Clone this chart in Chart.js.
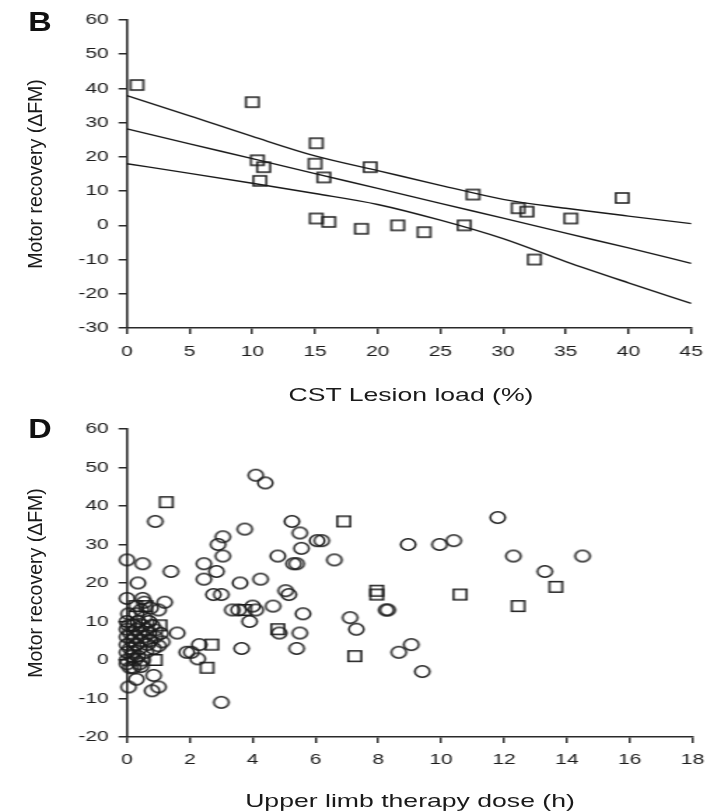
<!DOCTYPE html>
<html>
<head>
<meta charset="utf-8">
<script src="https://cdn.jsdelivr.net/npm/chart.js@4.4.1/dist/chart.umd.min.js"></script>
<style>
  html, body { margin: 0; padding: 0; background: #fff; }
  body {
    width: 715px; height: 812px; position: relative; overflow: hidden;
    font-family: "Liberation Sans", Arial, sans-serif; color: #1a1a1a;
  }
  /* the source figure is stretched sideways, so the charts are drawn narrow and widened */
  #stretch { position: absolute; left: 0; top: 0; width: 511px; height: 812px;
    transform: scaleX(1.4); transform-origin: 0 0; }
  #stretch canvas { position: absolute; left: 0; }
  #chart-b { top: 0; }
  #chart-d { top: 410px; }
  .txt { position: absolute; white-space: nowrap; line-height: 1; }
  .wide { transform: translate(-50%, -50%) scaleX(1.4); font-size: 19px; }
  .panel { transform: translate(-50%, -50%) scaleX(1.2); font-size: 27px; font-weight: bold; color: #111; }
  .ytitle { transform: translate(-50%, -50%) rotate(-90deg); font-size: 19.5px; }
</style>
</head>
<body>
<div id="stretch">
  <canvas id="chart-b" width="511" height="410"></canvas>
  <canvas id="chart-d" width="511" height="402"></canvas>
</div>
<div class="txt panel" style="left:40px; top:22px;">B</div>
<div class="txt panel" style="left:40px; top:429px;">D</div>
<div class="txt ytitle" style="left:36px; top:174px;">Motor recovery (ΔFM)</div>
<div class="txt ytitle" style="left:36px; top:583px;">Motor recovery (ΔFM)</div>
<div class="txt wide" style="left:411px; top:394px;">CST Lesion load (%)</div>
<div class="txt wide" style="left:410px; top:800px;">Upper limb therapy dose (h)</div>

<script>
// panel B: CST lesion load vs motor recovery
const lesionLoad = [0.8, 10.0, 10.4, 10.9, 10.6, 15.1, 15.0, 15.7, 15.1, 16.1, 18.7,
  19.4, 21.6, 23.7, 26.9, 27.6, 31.2, 31.9, 32.5, 35.4, 39.5];
const recoveryB = [41, 36, 19, 17, 13, 24, 18, 14, 2, 1, -1,
  17, 0, -2, 0, 9, 5, 4, -10, 2, 8];

// regression line and its confidence band
const fitX = [0, 5, 10, 15, 20, 25, 30, 35, 40, 45];
const fitUpper = [37.9, 32.0, 26.0, 20.3, 16.0, 11.7, 7.6, 5.0, 2.7, 0.5];
const fitMid = [28.2, 23.8, 19.5, 15.1, 10.8, 6.4, 2.1, -2.3, -6.6, -11.1];
const fitLower = [18.0, 15.2, 12.3, 9.3, 6.1, 1.5, -3.9, -10.6, -16.8, -22.8];

// panel D: therapy dose vs motor recovery (circles and squares)
const doseCircle = [4.1, 4.4, 0.9, 3.75, 5.25, 5.5, 5.55, 6.05, 6.2, 6.6,
  4.8, 3.05, 2.9, 3.05, 2.45, 2.85, 2.45, 3.6, 4.25, 5.3,
  5.4, 2.75, 3.0, 5.05, 5.15, 4.65, 5.6, 3.35, 3.55, 4.0,
  4.1, 3.9, 5.5, 4.85, 3.65, 5.4, 7.1, 7.3, 2.3, 1.9,
  2.05, 2.25, 8.65, 9.05, 9.4, 3.0, 8.25, 8.3, 11.8, 8.95,
  9.95, 10.4, 12.3, 14.5, 13.3, 1.4, 1.2, 1.0, 1.6, 1.07,
  1.12, 0.0, 0.5, 0.35, 0.0, 0.5, 0.55, 0.75, 0.9, 0.05,
  0.3, 0.8, 1.0, 0.85, 0.45, 1.0,
  0.0, 0.0, 0.0, 0.0, 0.0, 0.0, 0.0, 0.05, 0.1, 0.1,
  0.15, 0.15, 0.2, 0.2, 0.25, 0.25, 0.3, 0.3, 0.35, 0.35,
  0.4, 0.4, 0.45, 0.5, 0.5, 0.55, 0.6, 0.6, 0.65, 0.7,
  0.75, 0.8, 0.85, 0.9, 0.2, 0.4, 0.1, 0.3, 0.55, 0.7,
  0.05, 0.45];
const recoveryCircle = [48, 46, 36, 34, 36, 33, 29, 31, 31, 26,
  27, 32, 30, 27, 25, 23, 21, 20, 21, 25,
  25, 17, 17, 18, 17, 14, 12, 13, 13, 14,
  13, 10, 7, 7, 3, 3, 11, 8, 4, 2,
  2, 0.3, 2, 4, -3, -11, 13, 13, 37, 30,
  30, 31, 27, 27, 23, 23, 15, 13, 7, 6.9,
  4.7, 26, 25, 20, 16, 16, 15, 13.5, 7.8, -7,
  -5, -8, -7, -4, -1.7, 3.7,
  10, 8, 6, 4, 2, 0, -1, 9, 7, 3,
  5, 1, 9, 2, 6, 0, 8, 4, 10, 1,
  7, 3, 5, 9, 0, 6, 8, 2, 4, 7,
  5, 9, 3, 6, -2, -1, -2, 12, 11, 10,
  12, 13];
const doseSquare = [1.25, 6.9, 7.95, 7.95, 10.6, 13.65, 12.45, 4.8, 7.25, 2.7,
  2.55, 0.9, 1.05, 3.75, 0.28, 0.6];
const recoverySquare = [41, 36, 18, 17, 17, 19, 14, 8, 1, 4,
  -2, 0, 9, 13, 14, 14];

const FONT = "'Liberation Sans', Arial, sans-serif";
const INK = "#1c1c1c";

function makeMarker(shape, w, h) {
  const c = document.createElement("canvas");
  c.width = Math.ceil(w) + 2;
  c.height = Math.ceil(h) + 2;
  const ctx = c.getContext("2d");
  ctx.strokeStyle = INK;
  ctx.lineWidth = 1.5;
  ctx.beginPath();
  if (shape === "circle") {
    ctx.ellipse(c.width / 2, c.height / 2, w / 2 - 0.75, h / 2 - 0.75, 0, 0, Math.PI * 2);
  } else {
    ctx.rect(c.width / 2 - w / 2 + 0.75, c.height / 2 - h / 2 + 0.75, w - 1.5, h - 1.5);
  }
  ctx.stroke();
  return c;
}

const circleMark = makeMarker("circle", 12.1, 13);
const squareMarkB = makeMarker("square", 10.7, 11.5);
const squareMarkD = makeMarker("square", 10.7, 12);

function toPoints(xs, ys) {
  return xs.map((x, i) => ({ x: x, y: ys[i] }));
}

function axis(min, max, step, fixedSize, horizontal, pad) {
  return {
    type: "linear",
    min: min,
    max: max,
    border: { display: true, color: "#2a2a2a", width: 1.6 },
    grid: { drawOnChartArea: false, drawTicks: true, tickLength: 6, color: "#2a2a2a", lineWidth: 1.5 },
    ticks: {
      stepSize: step,
      autoSkip: false,
      maxRotation: 0,
      color: INK,
      padding: pad,
      font: { family: FONT, size: 15 },
    },
    afterFit: (scale) => {
      if (horizontal) scale.height = fixedSize;
      else scale.width = fixedSize;
    },
  };
}

function markerSet(xs, ys, mark) {
  return {
    data: toPoints(xs, ys),
    pointStyle: mark,
    pointRadius: 6,
    showLine: false,
    clip: false,
    order: 1,
  };
}

function lineSet(ys) {
  return {
    data: toPoints(fitX, ys),
    showLine: true,
    pointRadius: 0,
    borderColor: "#1a1a1a",
    borderWidth: 1.4,
    cubicInterpolationMode: "monotone",
    clip: false,
    order: 2,
  };
}

const commonOptions = {
  responsive: false,
  animation: false,
  devicePixelRatio: 1,
  plugins: { legend: { display: false }, tooltip: { enabled: false } },
};

new Chart(document.getElementById("chart-b"), {
  type: "scatter",
  data: {
    datasets: [
      markerSet(lesionLoad, recoveryB, squareMarkB),
      lineSet(fitUpper),
      lineSet(fitMid),
      lineSet(fitLower),
    ],
  },
  options: {
    ...commonOptions,
    layout: { padding: { top: 20, right: 12.4, left: 0, bottom: 0 } },
    scales: {
      x: axis(0, 45, 5, 82, true, 9),
      y: axis(-30, 60, 10, 90.7, false, 7),
    },
  },
});

new Chart(document.getElementById("chart-d"), {
  type: "scatter",
  data: {
    datasets: [
      markerSet(doseCircle, recoveryCircle, circleMark),
      markerSet(doseSquare, recoverySquare, squareMarkD),
    ],
  },
  options: {
    ...commonOptions,
    layout: { padding: { top: 19, right: 12.4, left: 0, bottom: 0 } },
    scales: {
      x: axis(0, 18, 2, 75, true, 8),
      y: axis(-20, 60, 10, 90.7, false, 7),
    },
  },
});
</script>
</body>
</html>
